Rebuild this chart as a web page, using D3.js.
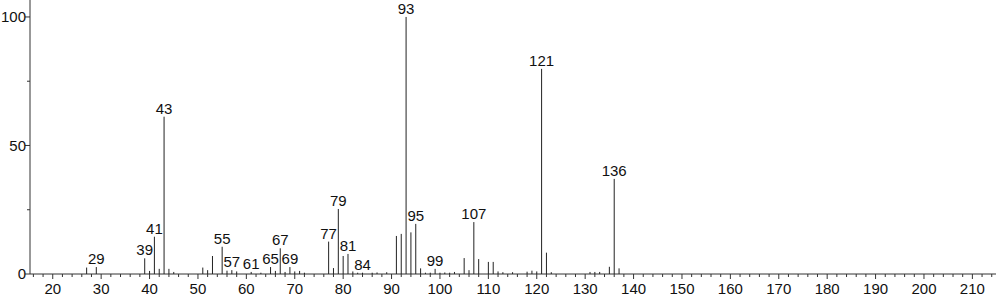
<!DOCTYPE html>
<html>
<head>
<meta charset="utf-8">
<script src="https://cdn.jsdelivr.net/npm/d3@7"></script>
<style>
  body { margin: 0; background: #fff; }
  text { font-family: "Liberation Sans", Arial, sans-serif; fill: #111; }
</style>
</head>
<body>
<svg id="chart" width="996" height="299"></svg>
<script>
// m/z values and relative intensities
const mz = [27, 29, 39, 40, 41, 42, 43, 44, 45, 51, 52, 53, 55, 56, 57, 58,
    61, 63, 65, 66, 67, 68, 69, 70, 71, 72, 77, 78, 79, 80, 81, 82, 83, 84, 86, 87,
    89, 91, 92, 93, 94, 95, 96, 97, 98, 99, 100, 101, 102, 103, 105, 106, 107, 108,
    110, 111, 112, 113, 115, 118, 119, 120, 121, 122, 123, 131, 132, 133, 135, 136, 137];
const intensity = [2.5, 2.7, 6.1, 1.2, 14.5, 2.0, 61.2, 2.0, 0.8, 2.5, 1.5, 7.0, 10.6, 1.3, 1.5, 1.0,
    0.8, 0.5, 2.7, 1.2, 10.0, 0.8, 2.7, 1.0, 1.2, 0.5, 12.6, 2.3, 25.3, 7.0, 7.8, 1.0, 0.5, 0.5, 0.5, 0.6,
    0.7, 14.8, 15.6, 100, 16.2, 19.5, 2.2, 0.5, 0.5, 2.0, 0.5, 0.6, 0.5, 0.8, 6.2, 1.5, 20.2, 5.8,
    4.7, 4.7, 1.0, 0.7, 0.7, 0.9, 1.3, 1.0, 79.8, 8.3, 0.7, 0.8, 0.8, 0.8, 2.8, 37.0, 2.2];
const labelled = [29, 39, 41, 43, 55, 57, 61, 65, 67, 69, 77, 79, 81, 84, 93, 95, 99, 107, 121, 136];
const xTicks = d3.range(20, 211, 10);
const yTicks = [0, 50, 100];

const peaks = mz.map((m, i) => ({ mz: m, value: intensity[i] }));

const svg = d3.select('#chart');
const x = d3.scaleLinear().domain([15.3, 215.5]).range([30, 999]);
const y = d3.scaleLinear().domain([0, 106.6]).range([274, 0]);

const axisColor = '#333';
const fontSize = '15px';

// x axis
svg.append('line')
    .attr('x1', 30).attr('x2', 996)
    .attr('y1', y(0)).attr('y2', y(0))
    .attr('stroke', axisColor);

svg.selectAll('line.xtick')
    .data(d3.range(16, 215, 2))
    .enter().append('line')
        .attr('class', 'xtick')
        .attr('x1', d => x(d)).attr('x2', d => x(d))
        .attr('y1', y(0))
        .attr('y2', d => y(0) + (d % 10 === 0 ? 5 : 3))
        .attr('stroke', axisColor);

svg.selectAll('text.xlabel')
    .data(xTicks)
    .enter().append('text')
        .attr('class', 'xlabel')
        .attr('x', d => x(d))
        .attr('y', 294)
        .attr('text-anchor', 'middle')
        .style('font-size', fontSize)
        .text(d => d);

// y axis
svg.append('line')
    .attr('x1', 30).attr('x2', 30)
    .attr('y1', 0).attr('y2', y(0))
    .attr('stroke', axisColor);

svg.selectAll('line.ytick')
    .data([0, 25, 50, 75, 100])
    .enter().append('line')
        .attr('class', 'ytick')
        .attr('x1', d => 30 - (d % 50 === 0 ? 5 : 3)).attr('x2', 30)
        .attr('y1', d => y(d)).attr('y2', d => y(d))
        .attr('stroke', axisColor);

svg.selectAll('text.ylabel')
    .data(yTicks)
    .enter().append('text')
        .attr('class', 'ylabel')
        .attr('x', 26)
        .attr('y', d => y(d))
        .attr('dy', '0.36em')
        .attr('text-anchor', 'end')
        .style('font-size', fontSize)
        .text(d => d);

// peaks
svg.selectAll('line.peak')
    .data(peaks)
    .enter().append('line')
        .attr('class', 'peak')
        .attr('x1', d => x(d.mz)).attr('x2', d => x(d.mz))
        .attr('y1', y(0)).attr('y2', d => y(d.value))
        .attr('stroke', '#222')
        .attr('stroke-width', 1);

svg.selectAll('text.peaklabel')
    .data(peaks.filter(d => labelled.includes(d.mz)))
    .enter().append('text')
        .attr('class', 'peaklabel')
        .attr('x', d => x(d.mz))
        .attr('y', d => y(d.value) - 3)
        .attr('text-anchor', 'middle')
        .style('font-size', fontSize)
        .text(d => d.mz);
</script>
</body>
</html>
